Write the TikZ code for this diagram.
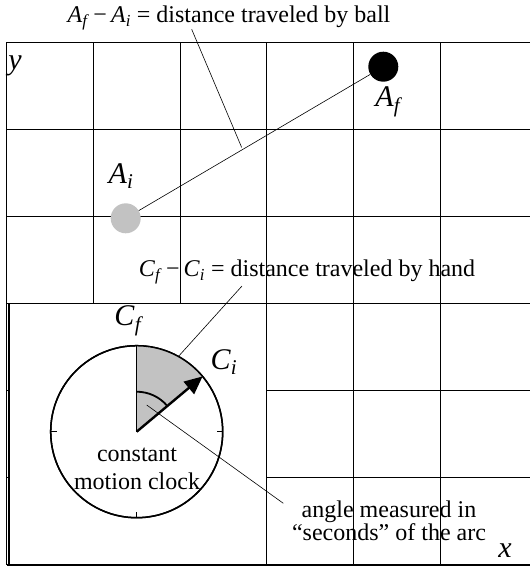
\documentclass[tikz,border=0pt]{standalone}
\usepackage{fontspec}
\setmainfont{Liberation Serif}
\usetikzlibrary{arrows.meta}
\definecolor{silver}{gray}{0.76}
\newcommand{\symb}[2]{\textit{#1}\textsubscript{\textit{#2}}}

\begin{document}
\begin{tikzpicture}[x=1pt,y=-1pt,>=Latex,
gridline/.style={line width=1.2pt},
leader/.style={line width=0.6pt},
ball/.style={circle,minimum size=30pt,inner sep=0pt},
big/.style={font=\fontsize{30}{32}\selectfont,inner sep=0pt},
txt/.style={font=\fontsize{24}{22}\selectfont,align=center,inner sep=0pt}]
\useasboundingbox (0,0) rectangle (530,568);
% grid
\foreach \k in {0,...,5}
  \draw[gridline] (6.7+86.7*\k,42.3) -- (6.7+86.7*\k,565);
\foreach \k in {0,...,6}
  \draw[gridline] (6.7,42.3+87.1*\k) -- (530,42.3+87.1*\k);
\node[big] (ylbl) at (15,66) {\textit{y}};
\node[big] (xlbl) at (505,551) {\textit{x}};
% ball
\node[ball,fill=silver] (ai) at (125.7,218.3) {};
\node[ball,fill=black] (af) at (383.3,66.7) {};
\draw[leader] (ai) -- (af);
\node[big] (ailbl) at (121,176) {\symb{A}{i}};
\node[big] (aflbl) at (389,102) {\symb{A}{f}};
\node[txt] (balllbl) at (229,18) {\symb{A}{f}\,−\,\symb{A}{i} = distance traveled by ball};
\coordinate (balltip) at (191.7,29.3);
\coordinate (ballmid) at (241.7,147.5);
\draw[leader] (balltip) -- (ballmid);
% clock
\draw[gridline,fill=white] (9,303.5) rectangle (266.7,565);
\node[circle,draw,line width=1.5pt,minimum size=172pt,inner sep=0pt,outer sep=0pt] (clock) at (136.7,431.7) {};
\fill[silver] (clock.center) -- (clock.90) arc[start angle=-90,end angle=-40,radius=86] -- cycle;
\draw[line width=1.5pt] (clock.center) -- (clock.90);
\draw[line width=1.5pt] (clock.center) circle[radius=86];
\draw[line width=1.2pt] (clock.0) -- ++(-6,0) (clock.180) -- ++(6,0) (clock.270) -- ++(0,-6);
\draw[line width=1.8pt] ([yshift=40pt]clock.center) arc[start angle=-90,end angle=-40,radius=40];
\draw[line width=2.4pt,-{Triangle[length=18pt,width=16pt]}] (clock.center) -- (clock.40);
\node[big] (cflbl) at (129,321) {\symb{C}{f}};
\node[big] (cilbl) at (224,362) {\symb{C}{i}};
\node[txt,font=\fontsize{24}{28}\selectfont] (clocklbl) at (137,469) {constant\\motion clock};
\node[txt] (handlbl) at (307,272) {\symb{C}{f}\,−\,\symb{C}{i} = distance traveled by hand};
\coordinate (handtip) at (242,286);
\draw[leader] (handtip) -- (clock.61);
\node[txt] (anglbl) at (389,521) {angle measured in\\``seconds'' of the arc};
\coordinate (angtip) at (146.7,405);
\coordinate (angend) at (283.3,503.3);
\draw[leader] (angtip) -- (angend);
\end{tikzpicture}
\end{document}
